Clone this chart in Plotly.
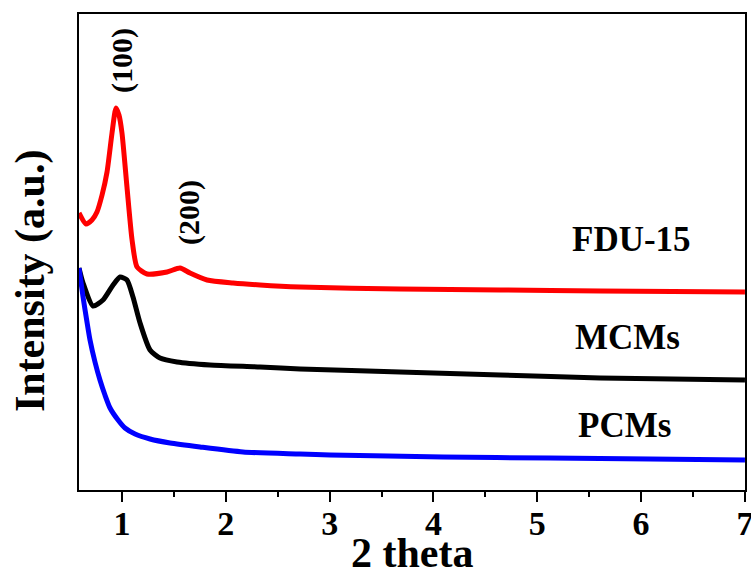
import plotly.graph_objects as go

# 2 theta values and intensities (arbitrary units)
fdu_x = [0.586, 0.653, 0.711, 0.759, 0.808, 0.856, 0.904, 0.942, 0.971, 1.000, 1.048, 1.097, 1.145,
         1.241, 1.434, 1.559, 1.655, 1.819, 2.070, 2.330, 2.715, 3.678, 4.642, 5.605, 7.0]
fdu_y = [277, 266, 270, 278, 295, 318, 357, 382, 375, 357, 303, 250, 223,
         216, 218, 222, 217, 210, 207, 205, 203, 201, 200, 199, 198]

mcm_x = [0.586, 0.625, 0.721, 0.817, 0.914, 0.981, 1.048, 1.106, 1.174, 1.270, 1.366, 1.530,
         1.848, 2.330, 2.715, 3.678, 4.642, 5.605, 7.0]
mcm_y = [222, 207, 184, 190, 205, 213, 210, 193, 167, 140, 132, 128,
         125, 123, 121, 118, 115, 112, 110]

pcm_x = [0.586, 0.625, 0.663, 0.692, 0.740, 0.788, 0.836, 0.885, 0.962, 1.029, 1.126, 1.270,
         1.463, 1.752, 2.166, 2.715, 3.004, 4.093, 5.124, 6.087, 7.0]
pcm_y = [222, 193, 168, 150, 128, 110, 95, 82, 70, 62, 56, 51,
         47, 43, 38, 36, 35, 33, 32, 31, 30]

tick_vals = [1, 2, 3, 4, 5, 6, 7]
tick_text = ["1", "2", "3", "4", "5", "6", "7"]

series_names = ["FDU-15", "MCMs", "PCMs"]
series_colors = ["#ff0000", "#000000", "#0000ff"]
label_pos = [(5.91, 251), (5.87, 153), (5.84, 65)]
peak_labels = ["(100)", "(200)"]
peak_pos = [(1.0, 430), (1.646, 277)]

FONT = "Liberation Serif, Times New Roman, serif"

fig = go.Figure()
for xs, ys, name, col in zip([fdu_x, mcm_x, pcm_x], [fdu_y, mcm_y, pcm_y], series_names, series_colors):
    fig.add_trace(go.Scatter(x=xs, y=ys, mode="lines", name=name,
                             line=dict(color=col, width=5, shape="spline", smoothing=0.6),
                             showlegend=False))

for (x, y), name in zip(label_pos, series_names):
    fig.add_annotation(x=x, y=y, text=f"<b>{name}</b>", showarrow=False,
                       font=dict(family=FONT, size=35, color="black"))

for (x, y), t in zip(peak_pos, peak_labels):
    fig.add_annotation(x=x, y=y, text=f"<b>{t}</b>", showarrow=False, textangle=-90,
                       font=dict(family=FONT, size=30, color="black"))

# axis titles
fig.add_annotation(xref="paper", yref="paper", x=0.5, y=-0.132, yanchor="middle",
                   text="<b>2 theta</b>", showarrow=False,
                   font=dict(family=FONT, size=42, color="black"))
fig.add_annotation(xref="paper", yref="paper", x=-0.0736, y=0.441, xanchor="center",
                   text="<b>Intensity (a.u.)</b>", showarrow=False, textangle=-90,
                   font=dict(family=FONT, size=42, color="black"))

fig.update_layout(
    width=751, height=571,
    margin=dict(l=79, r=6, t=14, b=81),
    paper_bgcolor="white", plot_bgcolor="white",
    font=dict(family=FONT, color="black"),
    xaxis=dict(range=[0.586, 7.0005], tickvals=tick_vals, ticktext=tick_text,
               ticks="outside", ticklen=10, tickwidth=2, ticklabeloverflow="allow",
               ticklabelstandoff=-8,
               tickcolor="black", showline=True, linecolor="black", linewidth=2, mirror=True,
               showgrid=False, zeroline=False, automargin=False,
               tickfont=dict(family=FONT, size=34, color="black", weight="bold"),
               minor=dict(dtick=0.5, tick0=0, ticks="outside", ticklen=5, tickwidth=2, tickcolor="black")),
    yaxis=dict(range=[0, 476], showticklabels=False, ticks="", showline=True, linecolor="black",
               linewidth=2, mirror=True, showgrid=False, zeroline=False, automargin=False),
)

fig.write_html("out.html")
